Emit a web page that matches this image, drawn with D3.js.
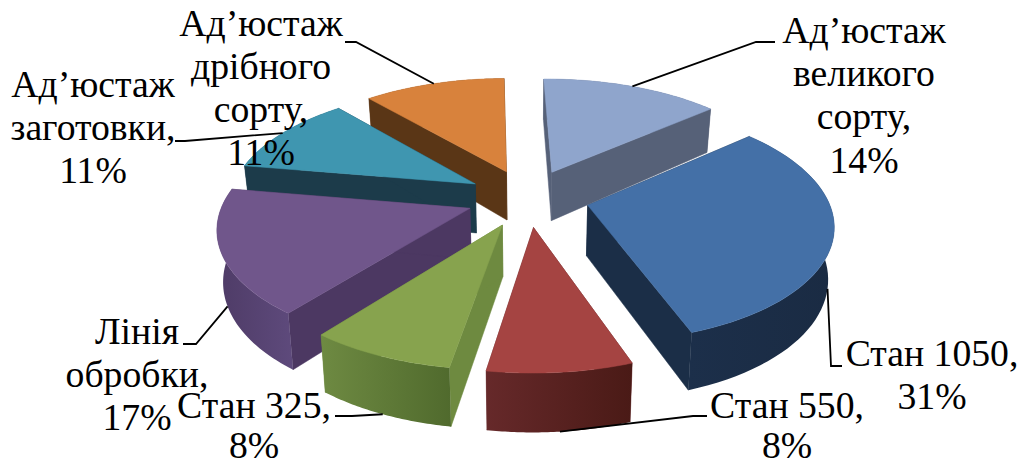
<!DOCTYPE html>
<html><head><meta charset="utf-8"><style>
html,body{margin:0;background:#fff}
svg{display:block}
text{font-family:"Liberation Serif","Times New Roman",serif;font-size:37.7px;fill:#000;text-anchor:middle}
</style></head><body><svg id="chart" width="1024" height="466"></svg>
<script src="https://cdn.jsdelivr.net/npm/d3@7"></script>
<script>
// Shop shares of an exploded 3D pie
const categories = ["Ад’юстаж великого сорту","Стан 1050","Стан 550","Стан 325","Лінія обробки","Ад’юстаж заготовки","Ад’юстаж дрібного сорту"];
const shares = [14,31,8,8,17,11,11];
const labelLines = [
  ["Ад’юстаж","великого","сорту,","14%"],
  ["Стан 1050,","31%"],
  ["Стан 550,","8%"],
  ["Стан 325,","8%"],
  ["Лінія","обробки,","17%"],
  ["Ад’юстаж","заготовки,","11%"],
  ["Ад’юстаж","дрібного","сорту,","11%"]
];
// Label block: centre x, first baseline, line step
const labelPlace = [[864,43,43.2],[932,366,43],[787,418,39.7],[254,418.2,39.5],[137,344,43],[93,97,43],[261,36,43]];
// Leader start and elbow next to each label
const leaderStart = [[[775,42],[756,42]],[[842,366],[831,366]],[[707,416],[693,416]],[[335,416],[352,416]],[[183,344],[196,344]],[[175,141],[185,141]],[[345,42],[356,42]]];
const topColors = ["#8fa5cc","#4470a7","#a54442","#87a34e","#70568b","#3f96b0","#d8823c"];
const wallColors = ["#566178","#1b2e47","#64282a","#6e8a40","#4c3862","#1c3b4a","#5a3616"];
const rimColors = [["#566178","#566178"],["#1c2f4a","#1a2b43"],["#66292a","#4a1a16"],["#6e8a42","#506a2d"],["#4e3b66","#5e4a7c"],["#1c3b4a","#1c3b4a"],["#5a3616","#5a3616"]];

// Perspective of the pie plane
const view = {cx:527.95,cy:197.8,A:242.6,B:114.1,k:.1475,l:.0115,S:-7,T:2.9,explode:.2525,turn:.0039,depth:50,depthFall:.15,squeeze:.98};
function project(X,Y,level){
  const w = 1+view.k*Y+view.l*X;
  const sx = view.cx+(view.A*X+view.S*Y)/w;
  const sy = view.cy-(view.B*Y+view.T*X)/w;
  if(!level) return [sx,sy];
  return [view.cx+(sx-view.cx)*(1-(1-view.squeeze)*level), sy+level*view.depth*(1-view.depthFall*Y)];
}

const svg = d3.select("#chart");
const defs = svg.append("defs");
const line = d3.line();
const slices = d3.pie().sort(null)(shares).map((d,i)=>{
  const mid = (d.startAngle+d.endAngle)/2+view.turn;
  return {...d,i,mid,ox:view.explode*Math.sin(mid),oy:view.explode*Math.cos(mid)};
});
const rimPoint = (s,a,level)=>project(s.ox+Math.sin(a+view.turn),s.oy+Math.cos(a+view.turn),level);
const apex = (s,level)=>project(s.ox,s.oy,level);
const sweep = s=>d3.range(0,1.0001,1/48).map(t=>s.startAngle+t*(s.endAngle-s.startAngle));

slices.forEach(s=>{
  const g = defs.append("linearGradient").attr("id","rim"+s.i);
  g.append("stop").attr("offset",0).attr("stop-color",rimColors[s.i][0]);
  g.append("stop").attr("offset",1).attr("stop-color",rimColors[s.i][1]);
});

// Painter's order: farthest slice first; within a slice, radial walls, then rim, then top
const pies = svg.append("g");
slices.slice().sort((a,b)=>Math.cos(b.mid)-Math.cos(a.mid)).forEach(s=>{
  const g = pies.append("g").datum(s);
  const angles = sweep(s);
  const top = angles.map(a=>rimPoint(s,a,0));
  const bottom = angles.map(a=>rimPoint(s,a,1)).reverse();
  [s.startAngle,s.endAngle].forEach(a=>{
    const wall = [apex(s,0),rimPoint(s,a,0),rimPoint(s,a,1),apex(s,1)];
    g.append("path").attr("d",line(wall)+"Z").attr("fill",wallColors[s.i]).attr("stroke",wallColors[s.i]).attr("stroke-width",.5);
  });
  g.append("path").attr("d",line(top.concat(bottom))+"Z")
    .attr("fill",`url(#rim${s.i})`);
  g.append("path").attr("d",line([apex(s,0),...top])+"Z").attr("fill",topColors[s.i]).attr("stroke",topColors[s.i]).attr("stroke-width",.5);
});

// Leaders end at each slice's mid-angle, on the rim's upper or lower edge
const leaderLevel = [0,1,1,1,1,0,0];
svg.append("g").selectAll("path").data(slices).join("path")
  .attr("fill","none").attr("stroke","#000").attr("stroke-width",1.8)
  .attr("d",s=>line([...leaderStart[s.i],rimPoint(s,s.mid-view.turn,leaderLevel[s.i])]));

svg.append("g").selectAll("text").data(slices).join("text")
  .attr("aria-label",s=>categories[s.i])
  .each(function(s){
    const [x,y,step] = labelPlace[s.i];
    d3.select(this).selectAll("tspan").data(labelLines[s.i]).join("tspan")
      .attr("x",x).attr("y",(_,j)=>y+j*step).text(t=>t);
  });
</script></body></html>
